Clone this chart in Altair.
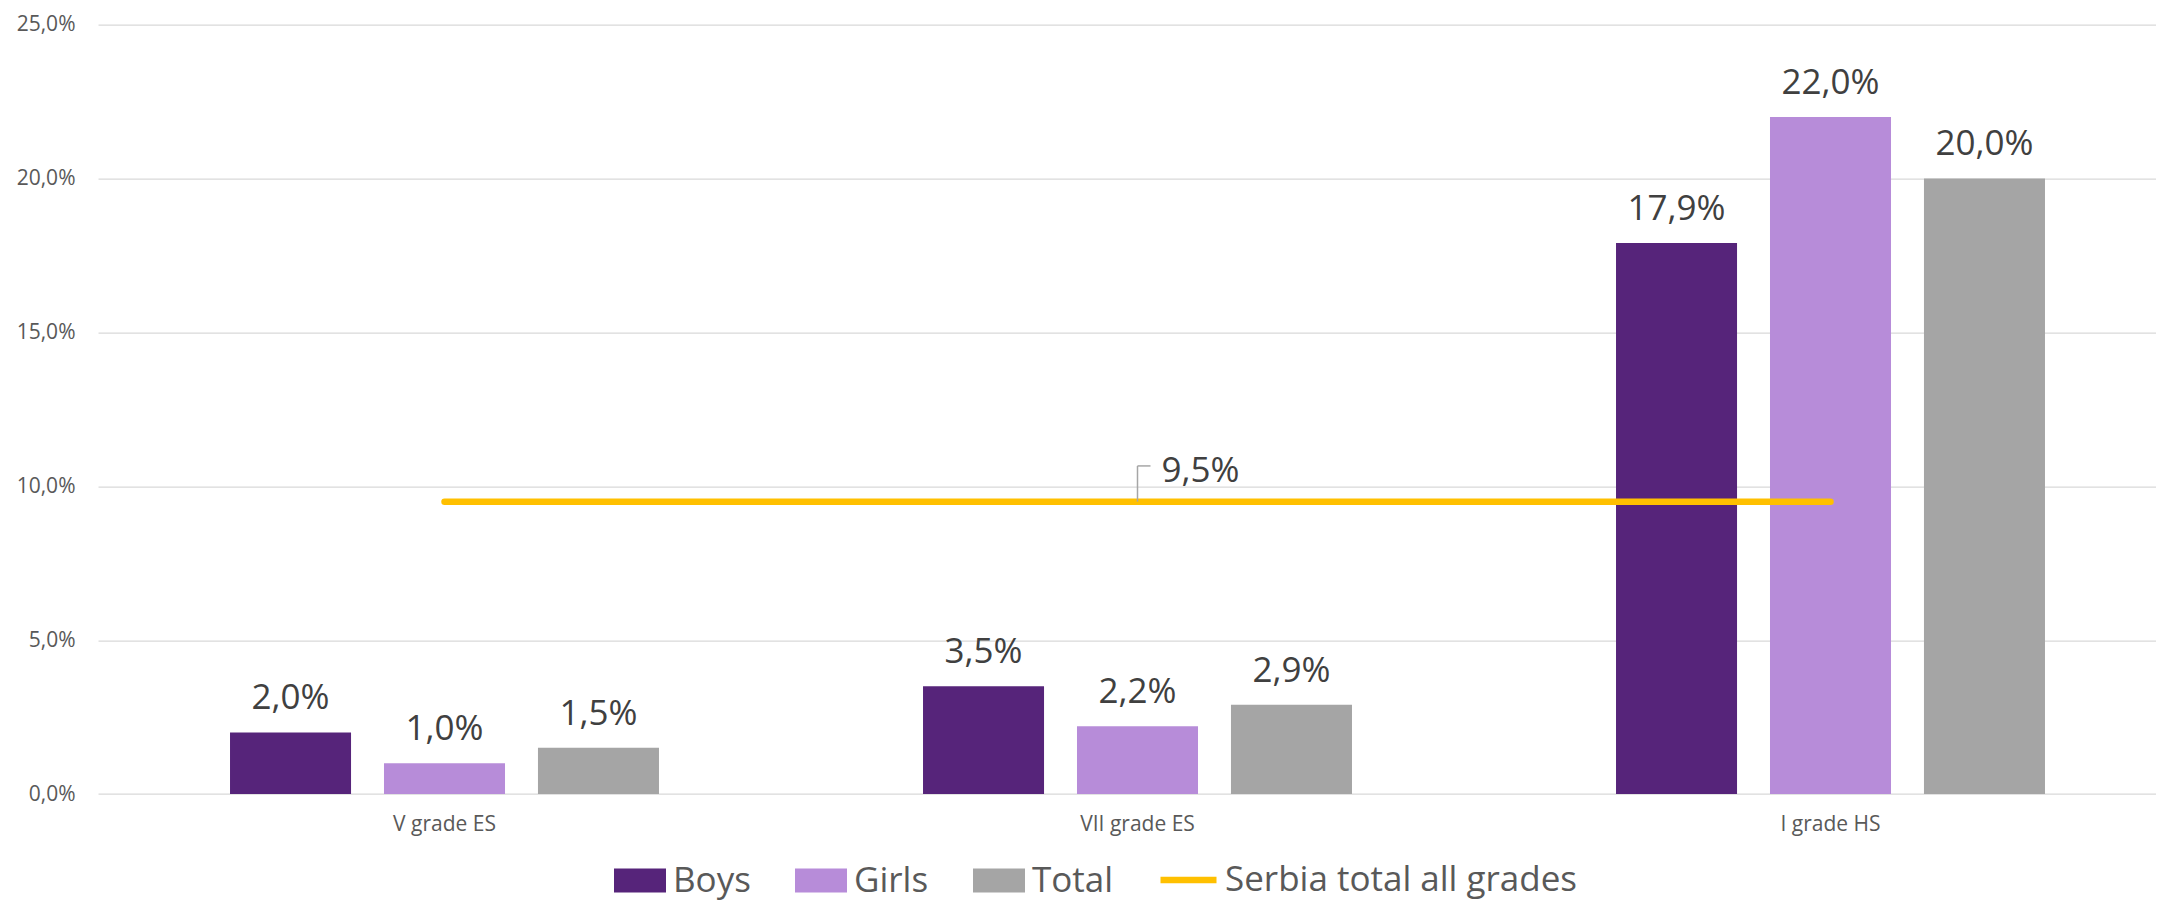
import altair as alt
import pandas as pd

grades = ["V grade ES", "VII grade ES", "I grade HS"]
series = ["Boys", "Girls", "Total"]
colors = ["#56247A", "#B78CD9", "#A5A5A5"]
boys = [2.0, 3.5, 17.9]
girls = [1.0, 2.2, 22.0]
total = [1.5, 2.9, 20.0]
serbia_label = "Serbia total all grades"
serbia_value = [9.5, 9.5, 9.5]
serbia_color = "#FFC000"
y_ticks = [0, 5, 10, 15, 20, 25]
callout_grade = "VII grade ES"
callout_top = 10.66

FONT = "Open Sans"

rows = []
for i, g in enumerate(grades):
    for s, vals in zip(series, [boys, girls, total]):
        rows.append({"grade": g, "series": s, "value": vals[i]})
bars_df = pd.DataFrame(rows)
line_df = pd.DataFrame({"grade": grades, "value": serbia_value, "line": [serbia_label] * 3})
callout_df = pd.DataFrame({"grade": [callout_grade], "value": [serbia_value[1]], "top": [callout_top]})

x_enc = alt.X(
    "grade:N",
    sort=grades,
    scale=alt.Scale(range=[0, 2079], paddingInner=0.381, paddingOuter=0.1905),
    axis=alt.Axis(title=None, ticks=False, domain=False, labelFont=FONT, labelFontSize=21,
                  labelColor="#595959", labelPadding=19, labelAngle=0),
)
y_enc = alt.Y(
    "value:Q",
    scale=alt.Scale(domain=[0, 25], nice=False),
    axis=alt.Axis(title=None, ticks=False, domain=False, values=y_ticks, labelFont=FONT,
                  labelFontSize=21, labelColor="#595959", labelPadding=23,
                  labelExpr="replace(format(datum.value, '.1f'), '.', ',') + '%'",
                  gridColor="#D9D9D9", gridWidth=1.3),
)
xoff = alt.XOffset("series:N", sort=series, scale=alt.Scale(paddingInner=0.214, paddingOuter=0))

bars = alt.Chart(bars_df).mark_bar().encode(
    x=x_enc,
    y=y_enc,
    xOffset=xoff,
    color=alt.Color(
        "series:N",
        sort=series,
        scale=alt.Scale(domain=series, range=colors),
        legend=alt.Legend(
            title=None, orient="none", direction="horizontal", columns=3,
            legendX=516, legendY=830, padding=0,
            symbolType="M-1,-0.4615H1V0.4615H-1Z", symbolSize=2704, symbolOpacity=1,
            symbolStrokeWidth=0, labelFont=FONT, labelFontSize=35, labelColor="#595959",
            labelOffset=7, columnPadding=44, labelLimit=500,
        ),
    ),
)

labels = alt.Chart(bars_df).transform_calculate(
    lbl="replace(format(datum.value, '.1f'), '.', ',') + '%'"
).mark_text(font=FONT, fontSize=35, color="#404040", baseline="alphabetic", dy=-23).encode(
    x=alt.X("grade:N", sort=grades),
    y=alt.Y("value:Q"),
    xOffset=alt.XOffset("series:N", sort=series),
    text="lbl:N",
)

line = alt.Chart(line_df).mark_line(strokeWidth=6.5, strokeCap="round").encode(
    x=alt.X("grade:N", sort=grades),
    y=alt.Y("value:Q"),
    stroke=alt.Stroke(
        "line:N",
        scale=alt.Scale(domain=[serbia_label], range=[serbia_color]),
        legend=alt.Legend(
            title=None, orient="none", direction="horizontal", legendX=1059, legendY=824,
            padding=0, symbolType="stroke", symbolSize=3136, symbolStrokeWidth=6.5,
            labelFont=FONT, labelFontSize=35, labelColor="#595959", labelOffset=5,
            labelLimit=600,
        ),
    ),
)

leader_v = alt.Chart(callout_df).mark_rule(color="#A6A6A6", strokeWidth=1.5).encode(
    x=alt.X("grade:N", sort=grades),
    y=alt.Y("value:Q"),
    y2=alt.Y2("top:Q"),
)
leader_h = alt.Chart(callout_df).mark_rule(color="#A6A6A6", strokeWidth=1.5, x2Offset=13).encode(
    x=alt.X("grade:N", sort=grades),
    x2=alt.X2("grade:N"),
    y=alt.Y("top:Q"),
)
callout_text = alt.Chart(callout_df).transform_calculate(
    lbl="replace(format(datum.value, '.1f'), '.', ',') + '%'"
).mark_text(font=FONT, fontSize=35, color="#404040", align="left", baseline="alphabetic",
            dx=24, dy=-19.5).encode(
    x=alt.X("grade:N", sort=grades),
    y=alt.Y("value:Q"),
    text="lbl:N",
)

chart = alt.layer(bars, labels, line, leader_v, leader_h, callout_text).properties(
    width=2058,
    height=769.4,
    autosize=alt.AutoSizeParams(type="none"),
    padding={"left": 90, "top": 16.6, "right": 0, "bottom": 108},
    background="white",
).configure_view(strokeWidth=0)

chart.save("out.html", embed_options={"renderer": "svg", "actions": False})
